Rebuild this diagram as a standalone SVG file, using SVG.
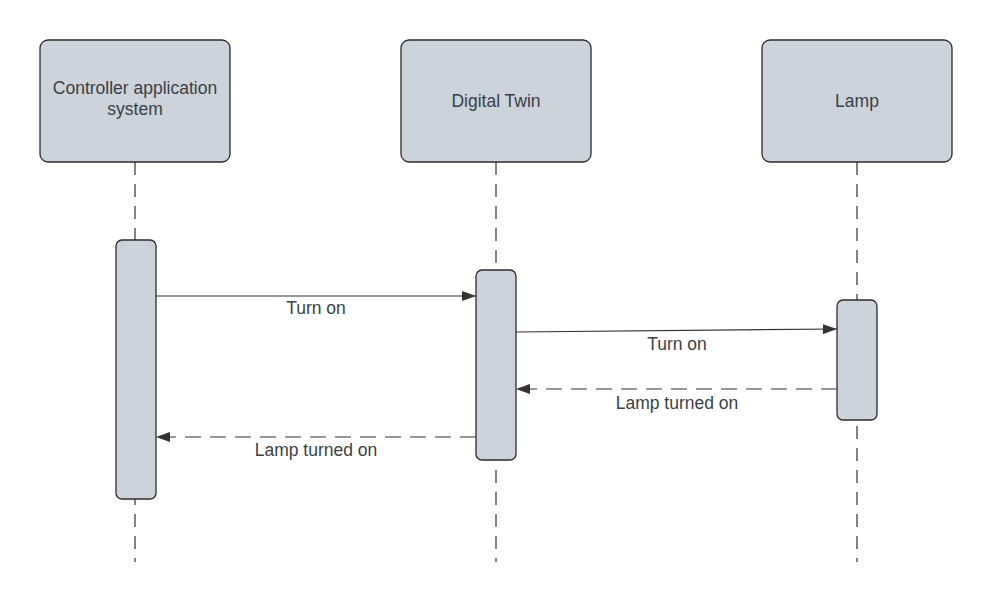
<svg xmlns="http://www.w3.org/2000/svg" width="992" height="600" viewBox="0 0 992 600">
<defs>
<style>
.box{fill:#cdd3db;stroke:#2b2b2b;stroke-width:1.3}
.life{stroke:#333;stroke-width:1.2;stroke-dasharray:13 9;fill:none}
.t{font-family:"Liberation Sans",Arial,sans-serif;font-size:17.5px;fill:#3a3f46;text-anchor:middle}
.msg{stroke:#333;stroke-width:1.2;fill:none}
.ret{stroke:#333;stroke-width:1.2;fill:none;stroke-dasharray:16 9}
</style>
<marker id="ah" markerWidth="14" markerHeight="10" refX="14" refY="5" orient="auto" markerUnits="userSpaceOnUse">
<path d="M0,0 L14,5 L0,10 Z" fill="#333"/>
</marker>
</defs>
<g id="lifelines">
<line class="life" x1="135" y1="162" x2="135" y2="562"/>
<line class="life" x1="496" y1="162" x2="496" y2="562"/>
<line class="life" x1="857" y1="162" x2="857" y2="562"/>
</g>
<g id="controller">
<rect class="box" x="40" y="40" width="190" height="122" rx="8"/>
<text class="t" x="135" y="94">Controller application</text>
<text class="t" x="135" y="115">system</text>
</g>
<g id="twin">
<rect class="box" x="401" y="40" width="190" height="122" rx="8"/>
<text class="t" x="496" y="107">Digital Twin</text>
</g>
<g id="lamp">
<rect class="box" x="762" y="40" width="190" height="122" rx="8"/>
<text class="t" x="857" y="107">Lamp</text>
</g>
<g id="act-controller"><rect class="box" x="116" y="240" width="40" height="259" rx="6"/></g>
<g id="act-twin"><rect class="box" x="476" y="270" width="40" height="190" rx="6"/></g>
<g id="act-lamp"><rect class="box" x="837" y="300" width="40" height="120" rx="6"/></g>
<g id="connectors">
<line class="msg" x1="156" y1="296" x2="476" y2="296" marker-end="url(#ah)"/>
<line class="msg" x1="516" y1="332" x2="837" y2="329" marker-end="url(#ah)"/>
<line class="ret" x1="837" y1="389" x2="516" y2="389" marker-end="url(#ah)"/>
<line class="ret" x1="476" y1="437" x2="156" y2="437" marker-end="url(#ah)"/>
<text class="t" x="316" y="314">Turn on</text>
<text class="t" x="677" y="350">Turn on</text>
<text class="t" x="677" y="409">Lamp turned on</text>
<text class="t" x="316" y="456">Lamp turned on</text>
</g>
</svg>
